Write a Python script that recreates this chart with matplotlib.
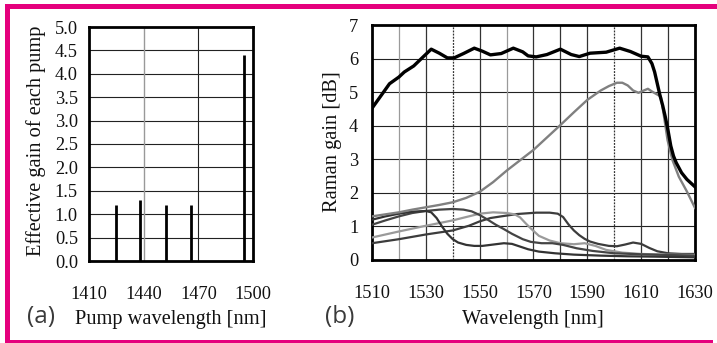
import matplotlib
matplotlib.use("Agg")
import matplotlib.pyplot as plt
from matplotlib.patches import Rectangle

# ---- (a) effective gain of each pump ----
pump_wavelengths = [1425, 1438, 1452, 1466, 1495]
pump_gains = [1.2, 1.3, 1.2, 1.2, 4.4]
a_xticks = [1410, 1440, 1470, 1500]
a_yticks = [0.0, 0.5, 1.0, 1.5, 2.0, 2.5, 3.0, 3.5, 4.0, 4.5, 5.0]

# ---- (b) Raman gain spectra ----
total_wl = [1510, 1512.5, 1516.5, 1520, 1522, 1525.5, 1529, 1532, 1535, 1538,
            1540.5, 1544, 1548, 1551, 1554, 1558, 1562.5, 1566, 1568, 1571,
            1575, 1580, 1584, 1587, 1591, 1597, 1602, 1606, 1610, 1612.5,
            1614, 1615, 1616, 1617, 1618, 1619, 1620, 1621, 1622, 1623,
            1625, 1627, 1630]
total_gain = [4.52, 4.8, 5.25, 5.45, 5.6, 5.78, 6.05, 6.28, 6.16, 6.02,
              6.02, 6.15, 6.31, 6.22, 6.11, 6.15, 6.31, 6.2, 6.08, 6.05,
              6.12, 6.28, 6.12, 6.06, 6.16, 6.19, 6.31, 6.21, 6.07, 6.05,
              5.85, 5.6, 5.25, 4.9, 4.6, 4.25, 3.85, 3.4, 3.1, 2.9,
              2.6, 2.4, 2.18]

p1495_wl = [1510, 1515, 1520, 1525, 1530, 1535, 1540, 1545, 1550, 1555, 1560,
            1565, 1570, 1575, 1580, 1585, 1590, 1595, 1598, 1601, 1603, 1605,
            1607, 1609, 1611, 1612.5, 1614, 1615.5, 1617.3, 1618.5, 1619.8,
            1621.6, 1624, 1627, 1630]
p1495_gain = [1.3, 1.36, 1.42, 1.5, 1.57, 1.64, 1.72, 1.85, 2.03, 2.32, 2.66,
              2.97, 3.28, 3.65, 4.02, 4.4, 4.77, 5.05, 5.18, 5.28, 5.28, 5.2,
              5.05, 4.98, 5.05, 5.1, 5.02, 4.95, 4.87, 4.27, 3.57,
              2.98, 2.48, 2.04, 1.55]

p1425_wl = [1510, 1515, 1520, 1525, 1530, 1532, 1534, 1536, 1538, 1540, 1542,
            1545, 1548, 1551, 1555, 1559, 1562, 1565, 1568, 1572, 1578, 1585,
            1595, 1605, 1615, 1630]
p1425_gain = [1.2, 1.3, 1.38, 1.44, 1.46, 1.42, 1.25, 1.0, 0.78, 0.62, 0.52,
              0.45, 0.42, 0.42, 0.46, 0.5, 0.48, 0.4, 0.32, 0.25, 0.2, 0.16,
              0.13, 0.11, 0.1, 0.08]

p1438_wl = [1510, 1515, 1520, 1525, 1530, 1535, 1540, 1544, 1547, 1550, 1553,
            1556, 1559, 1562, 1566, 1569, 1573, 1577, 1581, 1586, 1592, 1600,
            1610, 1620, 1630]
p1438_gain = [1.05, 1.18, 1.3, 1.4, 1.46, 1.5, 1.52, 1.5, 1.45, 1.34, 1.2,
              1.05, 0.92, 0.78, 0.62, 0.54, 0.5, 0.5, 0.45, 0.35, 0.27, 0.2,
              0.17, 0.15, 0.13]

p1452_wl = [1510, 1520, 1530, 1540, 1546, 1550, 1555, 1560, 1563, 1565, 1567,
            1569, 1572, 1576, 1580, 1585, 1589, 1593, 1597, 1603, 1610, 1620,
            1630]
p1452_gain = [0.67, 0.85, 1.02, 1.18, 1.3, 1.38, 1.42, 1.4, 1.36, 1.27, 1.1,
              0.94, 0.72, 0.58, 0.5, 0.47, 0.5, 0.42, 0.3, 0.22, 0.18, 0.16,
              0.15]

p1466_wl = [1510, 1520, 1530, 1540, 1546, 1550, 1554, 1558, 1564, 1571, 1576,
            1579, 1581, 1583, 1585, 1587, 1589, 1591, 1594, 1598, 1601, 1604,
            1607, 1610, 1613, 1616, 1620, 1625, 1630]
p1466_gain = [0.5, 0.62, 0.76, 0.88, 1.02, 1.15, 1.25, 1.3, 1.37, 1.41, 1.41,
              1.38, 1.28, 1.06, 0.88, 0.74, 0.63, 0.55, 0.48, 0.42, 0.41, 0.46,
              0.52, 0.48, 0.36, 0.26, 0.2, 0.18, 0.18]

b_xticks = [1510, 1530, 1550, 1570, 1590, 1610, 1630]
b_yticks = [0, 1, 2, 3, 4, 5, 6, 7]

SERIF = ["Liberation Serif", "DejaVu Serif"]
SANS = ["Open Sans", "DejaVu Sans"]
TICK_FS = 13.2
LABEL_FS = 14.7
PANEL_FS = 17.5
MAGENTA = "#E5007D"

W, H = 717, 343
fig = plt.figure(figsize=(W / 100, H / 100), dpi=100)
fig.patch.set_facecolor("white")


def px_axes(left, top, right, bottom):
    return fig.add_axes([left / W, 1 - bottom / H, (right - left) / W,
                         (bottom - top) / H])


def style_axes(ax, xpad, ypad):
    for s in ax.spines.values():
        s.set_linewidth(2.0)
        s.set_color("black")
    ax.tick_params(axis="both", length=0, labelsize=TICK_FS)
    ax.tick_params(axis="x", pad=xpad)
    ax.tick_params(axis="y", pad=ypad)
    for lab in ax.get_xticklabels() + ax.get_yticklabels():
        lab.set_family(SERIF)
        lab.set_color("#111111")


# ---------------- panel (a) ----------------
ax1 = px_axes(89, 27, 253, 261)
ax1.set_xlim(1410, 1500)
ax1.set_ylim(0, 5.0)
ax1.set_xticks(a_xticks)
ax1.set_yticks(a_yticks)
ax1.set_yticklabels([f"{v:.1f}" for v in a_yticks])
for y in a_yticks[1:-1]:
    ax1.axhline(y, color="#222222", lw=0.8, zorder=1)
ax1.axvline(1440, color="#999999", lw=1.0, zorder=1)
ax1.axvline(1470, color="#222222", lw=0.8, zorder=1)
ax1.vlines(pump_wavelengths, 0, pump_gains, color="black", lw=2.0, zorder=3)
style_axes(ax1, xpad=18, ypad=8)

# ---------------- panel (b) ----------------
ax2 = px_axes(372, 25, 695, 260)
ax2.set_xlim(1510, 1630)
ax2.set_ylim(0, 7)
ax2.set_xticks(b_xticks)
ax2.set_yticks(b_yticks)
for y in range(1, 7):
    ax2.axhline(y, color="#222222", lw=0.8, zorder=1)
for x in range(1520, 1630, 10):
    col = "#9a9a9a" if x in (1520, 1560) else "#333333"
    ls = (0, (1.5, 1)) if x in (1540, 1600) else "-"
    ax2.axvline(x, color=col, lw=0.9, ls=ls, zorder=1)

ax2.plot(p1466_wl, p1466_gain, color="#3c3c3c", lw=1.6, zorder=3)
ax2.plot(p1452_wl, p1452_gain, color="#9a9a9a", lw=1.6, zorder=3)
ax2.plot(p1438_wl, p1438_gain, color="#444444", lw=1.6, zorder=3)
ax2.plot(p1425_wl, p1425_gain, color="#333333", lw=1.6, zorder=3)
ax2.plot(p1495_wl, p1495_gain, color="#808080", lw=1.7, zorder=3)
ax2.plot(total_wl, total_gain, color="black", lw=2.4, zorder=4)
style_axes(ax2, xpad=18, ypad=10)

# ---------------- labels ----------------
fig.text(171 / W, 1 - 324 / H, "Pump wavelength [nm]", family=SERIF,
         fontsize=LABEL_FS, ha="center", va="baseline", color="#111111")
fig.text(533 / W, 1 - 324 / H, "Wavelength [nm]", family=SERIF,
         fontsize=LABEL_FS, ha="center", va="baseline", color="#111111")
fig.text(36 / W, 1 - 141 / H, "Effective gain of each pump", family=SERIF,
         fontsize=LABEL_FS, rotation=90, ha="center", va="center",
         color="#111111")
fig.text(332 / W, 1 - 142 / H, "Raman gain [dB]", family=SERIF,
         fontsize=LABEL_FS, rotation=90, ha="center", va="center",
         color="#111111")
fig.text(27 / W, 1 - 317 / H, "(a)", family=SANS, fontsize=PANEL_FS,
         ha="left", va="center", color="#3a3a3a")
fig.text(325 / W, 1 - 317 / H, "(b)", family=SANS, fontsize=PANEL_FS,
         ha="left", va="center", color="#3a3a3a")

# ---------------- magenta frame ----------------
fig.patches.append(Rectangle((5 / W, 1 - 9 / H), (W - 5) / W, 5 / H,
                             transform=fig.transFigure, color=MAGENTA,
                             lw=0, zorder=10))
fig.patches.append(Rectangle((5 / W, 0), 5 / W, 1 - 4 / H,
                             transform=fig.transFigure, color=MAGENTA,
                             lw=0, zorder=10))
fig.patches.append(Rectangle((5 / W, 0), (713 - 5) / W, 3 / H,
                             transform=fig.transFigure, color=MAGENTA,
                             lw=0, zorder=10))

fig.savefig("out.png", dpi=100, facecolor="white")
